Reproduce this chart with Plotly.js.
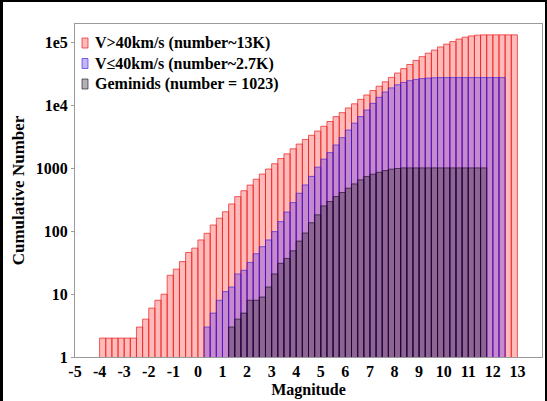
<!DOCTYPE html>
<html>
<head>
<meta charset="utf-8">
<script src="https://cdn.plot.ly/plotly-3.0.1.min.js"></script>
<style>
html,body{margin:0;padding:0;background:#fff;}
#wrap{position:relative;width:547px;height:401px;}
#chart{position:absolute;left:0;top:0;width:547px;height:401px;}
#frame{position:absolute;left:0;top:0;width:547px;height:401px;box-sizing:border-box;border-left:3px solid #000;border-top:2px solid #000;border-right:2px solid #000;pointer-events:none;}
</style>
</head>
<body>
<div id="wrap"><div id="chart"></div><div id="frame"></div></div>
<script>
// Bin width (magnitude) and first bin edge of each series
const binWidth = 0.25;
const fastStart = -4;
const slowStart = 0.25;
const gemStart = 1.25;

// Cumulative counts per bin, V>40 km/s
const fastCounts = [
  2, 2, 2, 2, 2, 2,
  3, 4, 6, 8, 10, 20, 25, 33, 46, 54,
  73, 93, 126, 162, 205, 273, 357, 443, 545, 676, 815, 980, 1190, 1440, 1710, 2060,
  2450, 2900, 3380, 3950, 4700, 5600, 6700, 7750, 9200,
  10700, 12600, 14800, 17400, 20400, 24000, 28200, 33100, 38900, 45200, 52500, 60300,
  68400, 76700, 86100, 95500, 104700, 114800, 123000, 128800, 132500, 134000, 134000,
  134000, 134000, 134000, 134000
];
// Cumulative counts per bin, V<=40 km/s
const slowCounts = [
  3, 5, 8, 11, 13, 21, 24, 32, 44, 57, 73, 99, 143, 203, 287, 404, 548, 750, 1050,
  1410, 1790, 2370, 3100, 4100, 5270, 6700, 8540, 10900, 13600, 16500, 19200, 21500,
  23400, 25000, 26200, 27000, 27500, 27800, 28000,
  28000, 28000, 28000, 28000, 28000, 28000, 28000, 28000, 28000, 28000
];
// Cumulative counts per bin, Geminids
const gemCounts = [
  3, 4, 5, 8, 8, 9, 13, 21, 31, 37, 49, 70, 94, 137, 183, 254, 298, 357, 415, 486,
  569, 660, 744, 811, 870, 927, 975, 1000,
  1023, 1023, 1023, 1023, 1023, 1023, 1023, 1023, 1023, 1023, 1023, 1023, 1023, 1023
];

const seriesNames = ["V>40km/s (number~13K)", "V\u226440km/s (number~2.7K)", "Geminids (number = 1023)"];
const xTickVals = [-5,-4,-3,-2,-1,0,1,2,3,4,5,6,7,8,9,10,11,12,13,14];
const yTickVals = [1, 10, 100, 1000, 10000, 100000];
const yTickText = ["1", "10", "100", "1000", "1e4", "1e5"];

const fills = ["rgba(255,0,0,0.27)", "rgba(95,50,235,0.36)", "rgba(45,40,45,0.36)"];
const edgesCol = ["rgba(235,30,30,0.7)", "rgba(50,20,220,0.6)", "rgba(20,0,30,0.6)"];

function binEdges(start, n){ const a=[]; for(let i=0;i<n;i++) a.push(start + i*binWidth); return a; }

const fam = "Liberation Serif, Times New Roman, serif";
const font = {family: fam, size: 15, color: "#000", weight: "bold"};

function trace(start, counts, k){
  return {
    type: "bar", name: seriesNames[k],
    x: binEdges(start, counts.length), y: counts,
    width: binWidth, offset: 0,
    marker: {color: fills[k], line: {color: edgesCol[k], width: 1}},
    hoverinfo: "skip"
  };
}

const data = [
  trace(fastStart, fastCounts, 0),
  trace(slowStart, slowCounts, 1),
  trace(gemStart, gemCounts, 2)
];

// Legend drawn as a plain list inside the top-left corner
const plotL = 75, plotW = 467, plotT = 24, plotH = 333;
const legRows = [43, 63.5, 84];
const annotations = [], shapes = [];
seriesNames.forEach((nm, k) => {
  const py = (plotT + plotH - legRows[k]) / plotH;
  annotations.push({xref: "paper", yref: "paper", x: (93 - plotL) / plotW, y: py,
    xanchor: "left", yanchor: "middle", text: nm, showarrow: false,
    font: {family: fam, size: 16, color: "#000", weight: "bold"}});
  shapes.push({type: "rect", xref: "paper", yref: "paper",
    x0: (82 - plotL) / plotW, x1: (88 - plotL) / plotW,
    y0: py - 5 / plotH, y1: py + 5 / plotH,
    fillcolor: fills[k], line: {color: edgesCol[k], width: 1}});
});

const layout = {
  width: 547, height: 401,
  margin: {l: plotL, r: 547 - plotL - plotW, t: plotT, b: 401 - plotT - plotH},
  paper_bgcolor: "#fff", plot_bgcolor: "#fff",
  barmode: "overlay", bargap: 0,
  showlegend: false,
  annotations: annotations, shapes: shapes,
  xaxis: {
    range: [-5, 14], tickvals: xTickVals, ticktext: xTickVals.map(String),
    showgrid: false, zeroline: false, showline: true, mirror: true,
    linecolor: "#9a9a9a", linewidth: 1, ticks: "", tickfont: Object.assign({}, font, {size: 16}),
    title: {text: "Magnitude", font: Object.assign({}, font, {size: 16}), standoff: 4}
  },
  yaxis: {
    type: "log", range: [0, 5.30], tickvals: yTickVals, ticktext: yTickText,
    showgrid: false, zeroline: false, showline: true, mirror: true,
    linecolor: "#9a9a9a", linewidth: 1, ticks: "outside", ticklen: 3, tickcolor: "#9a9a9a",
    tickfont: Object.assign({}, font, {size: 16}),
    title: {text: "Cumulative Number", font: Object.assign({}, font, {size: 17}), standoff: 6}
  }
};

Plotly.newPlot("chart", data, layout, {displayModeBar: false, staticPlot: true});
</script>
</body>
</html>
